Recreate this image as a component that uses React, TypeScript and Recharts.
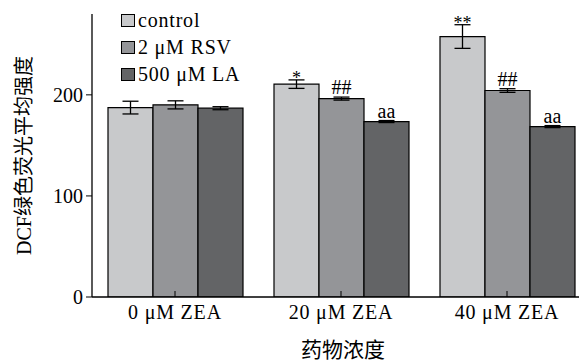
import React from 'react';
import { BarChart, Bar, XAxis, YAxis, ErrorBar, LabelList, Legend } from 'recharts';

// Group names on the x axis
const categories = ['0 μM ZEA', '20 μM ZEA', '40 μM ZEA'];

// Mean DCF fluorescence per treatment, with error half-widths
const controlValues = [187.4, 210.6, 257.7];
const controlErrors = [6.3, 4.2, 11.7];
const rsvValues = [190.1, 196.3, 204.3];
const rsvErrors = [4.0, 1.5, 1.8];
const laValues = [186.8, 173.6, 168.6];
const laErrors = [1.5, 1.0, 1.0];

// Significance marks printed above each bar
const controlMarks = ['', '*', '**'];
const rsvMarks = ['', '##', '##'];
const laMarks = ['', 'aa', 'aa'];

const seriesNames = ['control', '2 μM RSV', '500 μM LA'];
const yTicks = [0, 100, 200];

const COLORS = ['#c8c9cb', '#949598', '#636466'];
const FONT = "'Liberation Serif', 'Times New Roman', Times, 'DejaVu Serif', serif, 'Noto Sans CJK SC'";

const data = categories.map((name, i) => ({
  name,
  control: controlValues[i],
  controlErr: controlErrors[i],
  controlMark: controlMarks[i],
  rsv: rsvValues[i],
  rsvErr: rsvErrors[i],
  rsvMark: rsvMarks[i],
  la: laValues[i],
  laErr: laErrors[i],
  laMark: laMarks[i],
}));

// Places a mark just above the top of the error bar of its bar
const makeMarkLabel = (valueKey: string, errKey: string) => (props: any) => {
  const { x, y, width, height, value, index } = props;
  if (!value) return null;
  const row: any = data[index];
  const pxPerUnit = height / row[valueKey];
  const errTop = y - row[errKey] * pxPerUnit;
  const isStar = String(value).includes('*');
  return (
    <text
      x={x + width / 2}
      y={isStar ? errTop + 4 : errTop - 3}
      textAnchor="middle"
      fontFamily={FONT}
      fontSize={isStar ? 18 : 20}
      fill="#000"
    >
      {value}
    </text>
  );
};

const XTick = (props: any) => {
  const { x, y, payload } = props;
  return (
    <g>
      <line x1={x} y1={y} x2={x} y2={y - 6} stroke="#000" strokeWidth={1} />
      <text
        x={x}
        y={y + 22}
        textAnchor="middle"
        fontFamily={FONT}
        fontSize={20}
        letterSpacing={0.8}
        fill="#000"
      >
        {payload.value}
      </text>
    </g>
  );
};

const YTitle = (props: any) => {
  const { viewBox } = props;
  const cx = 24;
  const cy = viewBox.y + viewBox.height / 2;
  return (
    <text
      x={cx}
      y={cy}
      transform={`rotate(-90, ${cx}, ${cy})`}
      textAnchor="middle"
      dominantBaseline="central"
      fontFamily={FONT}
      fontSize={20}
      fill="#000"
    >
      DCF绿色荧光平均强度
    </text>
  );
};

const XTitle = (props: any) => {
  const { viewBox } = props;
  return (
    <text
      x={viewBox.x + viewBox.width / 2 + 2}
      y={viewBox.y + 60}
      textAnchor="middle"
      fontFamily={FONT}
      fontSize={21}
      fill="#000"
    >
      药物浓度
    </text>
  );
};

const LegendBox = () => (
  <div style={{ fontFamily: FONT, fontSize: 20, color: '#000' }}>
    {seriesNames.map((n, i) => (
      <div key={n} style={{ display: 'flex', alignItems: 'center', height: 27, lineHeight: '27px' }}>
        <span
          style={{
            display: 'inline-block',
            width: 12,
            height: 11,
            background: COLORS[i],
            border: '1px solid #000',
            marginRight: 3,
          }}
        />
        <span style={{ letterSpacing: 0.8, whiteSpace: 'nowrap' }}>{n}</span>
      </div>
    ))}
  </div>
);

export default function App() {
  return (
    <div style={{ position: 'absolute', left: 0, top: 0, width: 579, height: 363, overflow: 'hidden', background: '#fff' }}>
      <BarChart
        width={600}
        height={363}
        data={data}
        margin={{ top: 14, right: 10, bottom: 0, left: 0 }}
        barCategoryGap={16}
        barGap={0}
      >
        <XAxis
          dataKey="name"
          height={66}
          axisLine={{ stroke: '#000', strokeWidth: 1.3 }}
          tickLine={false}
          tickSize={0}
          tickMargin={0}
          tick={<XTick />}
          interval={0}
          label={<XTitle />}
        />
        <YAxis
          width={92}
          domain={[0, 280]}
          ticks={yTicks}
          allowDataOverflow
          axisLine={{ stroke: '#000', strokeWidth: 1.3 }}
          tickLine={{ stroke: '#000', strokeWidth: 1 }}
          tickSize={6}
          tickMargin={3}
          tick={{ fontFamily: FONT, fontSize: 20, fill: '#000' }}
          label={<YTitle />}
        />
        <Legend
          layout="vertical"
          align="center"
          verticalAlign="middle"
          content={<LegendBox />}
          wrapperStyle={{ top: 7, left: 121, width: 160, height: 81 }}
        />
        <Bar dataKey="control" name={seriesNames[0]} fill={COLORS[0]} stroke="#000" strokeWidth={1.2} isAnimationActive={false}>
          <ErrorBar dataKey="controlErr" width={8} stroke="#000" strokeWidth={1.3} direction="y" />
          <LabelList dataKey="controlMark" content={makeMarkLabel('control', 'controlErr')} />
        </Bar>
        <Bar dataKey="rsv" name={seriesNames[1]} fill={COLORS[1]} stroke="#000" strokeWidth={1.2} isAnimationActive={false}>
          <ErrorBar dataKey="rsvErr" width={8} stroke="#000" strokeWidth={1.3} direction="y" />
          <LabelList dataKey="rsvMark" content={makeMarkLabel('rsv', 'rsvErr')} />
        </Bar>
        <Bar dataKey="la" name={seriesNames[2]} fill={COLORS[2]} stroke="#000" strokeWidth={1.2} isAnimationActive={false}>
          <ErrorBar dataKey="laErr" width={8} stroke="#000" strokeWidth={1.3} direction="y" />
          <LabelList dataKey="laMark" content={makeMarkLabel('la', 'laErr')} />
        </Bar>
      </BarChart>
    </div>
  );
}
